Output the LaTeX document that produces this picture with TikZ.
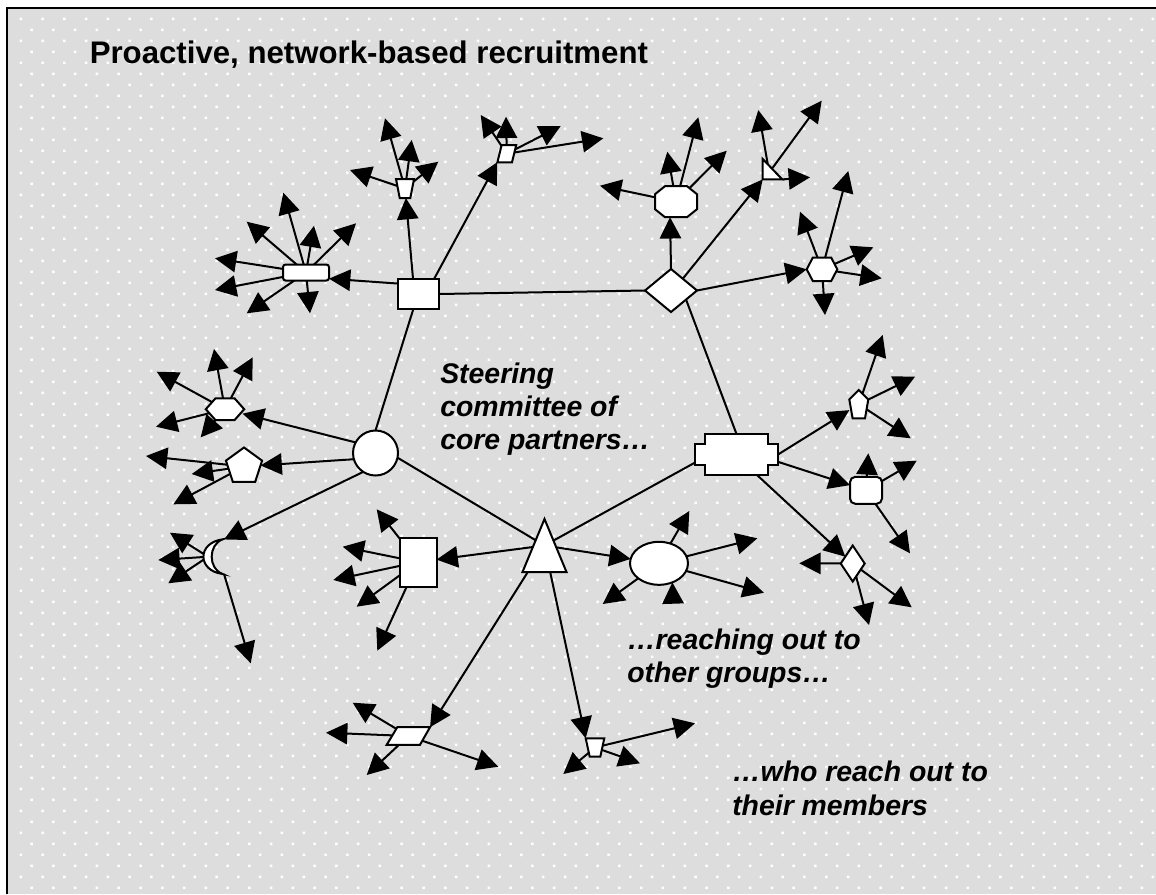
\documentclass[tikz,border=0pt]{standalone}
\usepackage{fontspec}
\setmainfont{Liberation Sans}
\usetikzlibrary{arrows.meta,shapes.geometric}
\pgfdeclarelayer{bg}
\pgfdeclarelayer{lines}
\pgfsetlayers{bg,lines,main}
\definecolor{bggray}{RGB}{221,221,221}
\begin{document}
\begin{tikzpicture}[x=0.75pt,y=-0.75pt,
  shp/.style={draw=black,fill=white,line width=1.5pt,line join=miter},
  box/.style={shp,inner sep=0pt,outer sep=0pt},
  anc/.style={draw=none,fill=none,inner sep=0pt,outer sep=0pt,rectangle},
  arr/.style={line width=1.5pt,-{Triangle[length=16pt,width=16pt]}},
  link/.style={line width=1.5pt},
  lbl/.style={font=\fontsize{21.3pt}{25pt}\selectfont\bfseries\itshape,inner sep=0pt,anchor=base west}
]
\useasboundingbox (0,0) rectangle (1156,894);
\begin{pgfonlayer}{bg}
  \fill[white] (0,0) rectangle (1156,894);
  \fill[bggray] (7,8.3) rectangle (1156,894);
  \fill[white] \foreach \j in {0,...,79} {\foreach \n in {0,...,52} {({19.5+21.77*\n+10.9*mod(\j,2)},{17.5+11*\j}) rectangle ++(2.5,2.5)}};
  \draw[line width=1.5pt] (7,894) -- (7,8.3) -- (1156,8.3);
\end{pgfonlayer}

% ---- hub nodes
\node[box,rectangle,minimum width=41*0.75pt,minimum height=30*0.75pt] (A) at (418.5,294) {};
\node[box,diamond,minimum width=52*0.75pt,minimum height=43*0.75pt] (B) at (671,290.5) {};
\node[box,circle,minimum size=45*0.75pt] (C) at (375.5,453) {};
\node[anc,minimum width=83*0.75pt,minimum height=41*0.75pt] (D) at (736.5,454.5) {};
\draw[shp,shift={(D.center)}] (-31.5,-20.5) -- (31.5,-20.5) -- (31.5,-10.3) -- (41.5,-10.3) -- (41.5,10.3) -- (31.5,10.3) -- (31.5,20.5) -- (-31.5,20.5) -- (-31.5,10.3) -- (-41.5,10.3) -- (-41.5,-10.3) -- (-31.5,-10.3) -- cycle;
\node[anc,minimum width=44*0.75pt,minimum height=53*0.75pt] (E) at (544.5,545.5) {};
\draw[shp,shift={(E.center)}] (0,-26.5) -- (22,26.5) -- (-22,26.5) -- cycle;

% ---- group nodes
\node[box,rectangle,rounded corners=2pt,minimum width=46*0.75pt,minimum height=16*0.75pt] (R1) at (306,272.5) {};
\node[anc,minimum width=18*0.75pt,minimum height=19*0.75pt] (T1) at (405,188.5) {};
\draw[shp,shift={(T1.center)}] (-9,-9.5) -- (9,-9.5) -- (5.3,9.5) -- (-5.3,9.5) -- cycle;
\node[anc,minimum width=19*0.75pt,minimum height=17*0.75pt] (P1) at (506.8,153.7) {};
\draw[shp,shift={(P1.center)}] (-5.2,-8.6) -- (9.4,-8.6) -- (5.2,8.6) -- (-9.4,8.6) -- cycle;

\node[anc,minimum width=42*0.75pt,minimum height=31*0.75pt] (O1) at (676,201.7) {};
\draw[shp,shift={(O1.center)}] (-11,-15.5) -- (11,-15.5) -- (21,-7.5) -- (21,7.5) -- (11,15.5) -- (-11,15.5) -- (-21,7.5) -- (-21,-7.5) -- cycle;
\node[anc,minimum width=19.6*0.75pt,minimum height=20.4*0.75pt] (RT1) at (772.5,169.2) {};
\draw[shp,shift={(RT1.center)}] (-9.8,-10.2) -- (9.8,10.2) -- (-9.8,10.2) -- cycle;
\coordinate (RT1c) at (769.2,172.5);
\node[anc,minimum width=30.6*0.75pt,minimum height=23.4*0.75pt] (H1) at (822,269.3) {};
\draw[shp,shift={(H1.center)}] (-15.3,0) -- (-9.2,-11.7) -- (9.2,-11.7) -- (15.3,0) -- (9.2,11.7) -- (-9.2,11.7) -- cycle;

\node[anc,ellipse,minimum width=38.4*0.75pt,minimum height=21.6*0.75pt] (H2) at (225,409.2) {};
\draw[shp,shift={(H2.center)}] (-19.2,0) -- (-9.6,-10.8) -- (9.6,-10.8) -- (19.2,0) -- (9.6,10.8) -- (-9.6,10.8) -- cycle;
\node[box,regular polygon,regular polygon sides=5,minimum size=38*0.75pt] (P2) at (244,466.5) {};
\node[anc,minimum width=32*0.75pt,minimum height=34.5*0.75pt] (M1) at (208,556.7) {};
\draw[shp,shift={(M1.center)}] (14.7,-17.4) .. controls (-11,-14) and (-11,14) .. (14.7,17.3) .. controls (0,12) and (0,-12) .. (14.7,-17.4) -- cycle;

\node[box,rectangle,minimum width=37*0.75pt,minimum height=49*0.75pt] (R2) at (418,562) {};
\node[box,ellipse,minimum width=58*0.75pt,minimum height=43*0.75pt] (EL1) at (659,563.3) {};
\node[anc,minimum width=43.3*0.75pt,minimum height=17.6*0.75pt] (P3) at (408.4,736) {};
\draw[shp,shift={(P3.center)}] (-11.1,-8.8) -- (21.6,-8.8) -- (11.6,8.8) -- (-21.7,8.8) -- cycle;
\node[anc,minimum width=18.6*0.75pt,minimum height=18.4*0.75pt] (T2) at (595,747.5) {};
\draw[shp,shift={(T2.center)}] (-9.3,-9.2) -- (9.3,-9.2) -- (5.3,9.2) -- (-5.3,9.2) -- cycle;

\node[anc,minimum width=19*0.75pt,minimum height=28.3*0.75pt] (P4) at (858.8,404.2) {};
\draw[shp,shift={(P4.center)}] (0,-14.2) -- (9.5,-4.7) -- (6.2,14.1) -- (-6.2,14.1) -- (-9.5,-4.7) -- cycle;
\node[box,rectangle,rounded corners=4pt,minimum width=32*0.75pt,minimum height=27*0.75pt] (RR1) at (866,490.3) {};
\node[box,diamond,minimum width=24*0.75pt,minimum height=36*0.75pt] (DI1) at (852.7,563.5) {};

% ---- texts
\node[font=\fontsize{23.4pt}{28pt}\selectfont\bfseries,anchor=base west,inner sep=0pt] (title) at (89.5,63.3) {Proactive, network-based recruitment};
\node[lbl] (steer) at (440,383.3) {\begin{tabular}[t]{@{}l@{}}Steering\\committee of\\core partners…\end{tabular}};
\node[lbl] (reach) at (627,649) {\begin{tabular}[t]{@{}l@{}}…reaching out to\\other groups…\end{tabular}};
\node[lbl] (who) at (732,781.7) {\begin{tabular}[t]{@{}l@{}}…who reach out to\\their members\end{tabular}};

% ---- connectors
\begin{pgfonlayer}{lines}
  \draw[link] (A.east) -- (B.west);
  \draw[link] (B.329) -- (D.north);
  \draw[link] (A.251) -- (C.north);
  \draw[link] (C.348) -- (E.center);
  \draw[link] (D.191) -- (E.center);

  \draw[arr] (A.153) -- (R1.345);
  \draw[arr] (A.110) -- (T1);
  \draw[arr] (A.44) -- (P1.south west);
  \draw[arr] (B.north) -- (O1.249);
  \draw[arr] (B.45) -- (RT1.south west);
  \draw[arr] (B.east) -- (H1.west);
  \draw[arr] (C.152) -- (H2);
  \draw[arr] (C.196) -- (P2);
  \draw[arr] (C.237) -- (M1.north east);
  \draw[arr] (E.center) -- (R2);
  \draw[arr] (E.center) -- (EL1);
  \draw[arr] (E.center) -- (P3.north east);
  \draw[arr] (E.center) -- (T2.north west);
  \draw[arr] (D.east) -- (P4);
  \draw[arr] (D.350) -- (RR1);
  \draw[arr] (D.315) -- (DI1);

  \foreach \x/\y [count=\i] in {215/258.3,215/290,246.7/313.3,310/313.3,246.7/221.7,283.3/192.7,314/225.7,356/223.3}
    {\coordinate (R1t\i) at (\x,\y); \draw[arr] (R1.center) -- (R1t\i);}
  \foreach \x/\y [count=\i] in {385/118.3,411.7/140,438.3/161.7,350/170}
    {\coordinate (T1t\i) at (\x,\y); \draw[arr] (T1.center) -- (T1t\i);}
  \foreach \x/\y [count=\i] in {480.7/115,506/116.7,560.7/126,603.3/138.3}
    {\coordinate (P1t\i) at (\x,\y); \draw[arr] (P1.center) -- (P1t\i);}
  \foreach \x/\y [count=\i] in {600/185.7,667.3/151.7,698.3/117.3,726.7/150.7}
    {\coordinate (O1t\i) at (\x,\y); \draw[arr] (O1.center) -- (O1t\i);}
  \foreach \x/\y [count=\i] in {758.3/110,821.7/100.7}
    {\coordinate (RT1t\i) at (\x,\y); \draw[arr] (RT1c) -- (RT1t\i);}
  \coordinate (RT1t3) at (810,177.3); \draw[arr] (RT1.south east) -- (RT1t3);
  \foreach \x/\y [count=\i] in {800/211.7,848.3/171,873.3/247.3,881.7/278.3,825/315}
    {\coordinate (H1t\i) at (\x,\y); \draw[arr] (H1.center) -- (H1t\i);}
  \foreach \x/\y [count=\i] in {156.7/371.7,214/349,252.7/357.3,156/426.7,200.7/437.3}
    {\coordinate (H2t\i) at (\x,\y); \draw[arr] (H2.center) -- (H2t\i);}
  \foreach \x/\y [count=\i] in {146/456,191.7/474,173.3/504.3}
    {\coordinate (P2t\i) at (\x,\y); \draw[arr] (P2.center) -- (P2t\i);}
  \foreach \x/\y [count=\i] in {170/532.7,158.3/560,168.3/583.3}
    {\coordinate (M1t\i) at (\x,\y); \draw[arr] (M1.center) -- (M1t\i);}
  \coordinate (M1t4) at (250.7,663.3); \draw[arr] (M1.south east) -- (M1t4);
  \foreach \x/\y [count=\i] in {376.7/509.3,342.7/546.7,333.3/580,356.7/606.7,377.3/650.7}
    {\coordinate (R2t\i) at (\x,\y); \draw[arr] (R2.center) -- (R2t\i);}
  \foreach \x/\y [count=\i] in {689.3/511,602.7/604,757.3/538.3,764/592.7}
    {\coordinate (EL1t\i) at (\x,\y); \draw[arr] (EL1.center) -- (EL1t\i);}
  \coordinate (EL1u) at (673,602); \draw[arr] (EL1u) -- (EL1.305);
  \foreach \x/\y [count=\i] in {352.7/702.7,326/732.7,366.7/775,498.3/766.7}
    {\coordinate (P3t\i) at (\x,\y); \draw[arr] (P3.center) -- (P3t\i);}
  \foreach \x/\y [count=\i] in {695/723.3,640/763.3,563.3/774}
    {\coordinate (T2t\i) at (\x,\y); \draw[arr] (T2.center) -- (T2t\i);}
  \foreach \x/\y [count=\i] in {882.7/335,915/376.7,910.7/438.3}
    {\coordinate (P4t\i) at (\x,\y); \draw[arr] (P4.center) -- (P4t\i);}
  \foreach \x/\y [count=\i] in {868.3/453.3,916.7/460.7,910/553.3}
    {\coordinate (RR1t\i) at (\x,\y); \draw[arr] (RR1.center) -- (RR1t\i);}
  \foreach \x/\y [count=\i] in {799.3/563.3,911.7/607.3,869/625}
    {\coordinate (DI1t\i) at (\x,\y); \draw[arr] (DI1.center) -- (DI1t\i);}
\end{pgfonlayer}
\end{tikzpicture}
\end{document}
